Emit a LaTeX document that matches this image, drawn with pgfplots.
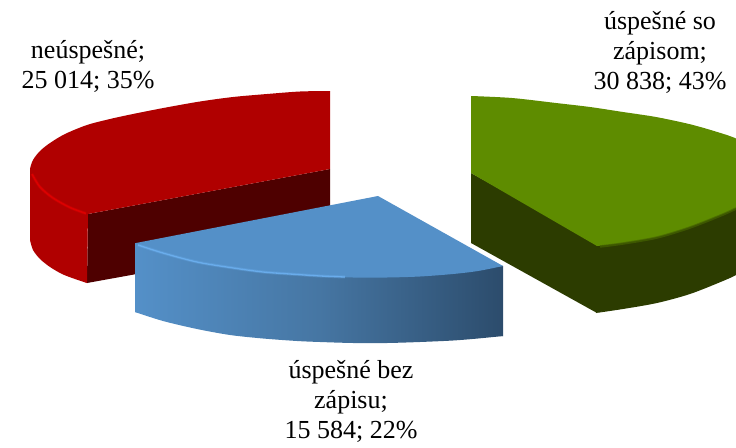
\documentclass[border=0pt]{standalone}
\usepackage{fontspec}
\setmainfont{Liberation Serif}
\usepackage{pgfplots}
\pgfplotsset{compat=1.18}
\definecolor{redtop}{HTML}{B00000}
\definecolor{redlit}{HTML}{E00000}
\definecolor{reddark}{HTML}{4E0000}
\definecolor{bluetop}{HTML}{5490C8}
\definecolor{bluelit}{HTML}{6CB0F0}
\definecolor{bluemid}{HTML}{4676A3}
\definecolor{blueend}{HTML}{2C4C6C}
\definecolor{greentop}{HTML}{5E8C00}
\definecolor{greendark}{HTML}{2C3C00}
\definecolor{greenrim}{HTML}{456300}
\tikzset{lbl/.style={font=\fontsize{26}{30}\selectfont, align=center, text=black, inner sep=0pt}}
\begin{document}
\begin{tikzpicture}
\begin{axis}[
  width=736pt, height=447pt, scale only axis,
  xmin=0, xmax=736, ymin=0, ymax=447,
  y dir=reverse,
  hide axis,
  no markers,
  every axis plot/.append style={draw=none, line join=round},
]
\path[use as bounding box] (axis cs:0,0) rectangle (axis cs:736,447);
% red slice: inner side, wall, bottom rim, top
\addplot[fill=reddark] coordinates {(88,214) (330,169) (330,239) (87,283)} -- cycle;
\addplot[fill=redtop] coordinates {(30,170) (30,240) (40,256) (62,271) (87,283) (88,210)} -- cycle;
\addplot[fill=redtop, smooth] coordinates {(30,240) (33,250) (40,259) (50,267) (62,274) (75,279) (87,283)};
\addplot[fill=redtop] coordinates {(330,91) (280,96) (170,112) (60,145) (40,180) (88,214) (330,169)} -- cycle;
\addplot[fill=redtop, smooth] coordinates {(330,91) (300,91.5) (267,94) (233,97) (200,101.5) (166,107.5) (133,114) (110,119) (87,125) (65,134) (50,143) (40,151) (33,160) (30,170) (33,178) (40,188) (53,198) (70,208) (88,214)};
\addplot[draw=redlit, line width=3pt, opacity=0.35, smooth] coordinates {(32,174) (40,187) (53,198) (70,207.5) (86,213.5)};
\addplot[draw=redlit, line width=1.5pt, opacity=0.9, smooth] coordinates {(32,174) (40,187) (53,198) (70,207.5) (86,213.5)};
% green slice
\addplot[fill=greendark] coordinates {(471,173) (597,243) (597,313) (471,243)} -- cycle;
\addplot[fill=greendark] coordinates {(596,240) (760,190) (760,260) (690,290) (623,306) (596,313)} -- cycle;
\addplot[fill=greendark, smooth] coordinates {(596,313) (623,309) (657,303) (690,294) (723,281) (736,275) (760,262)};
\addplot[fill=greentop] coordinates {(471,96) (556,106) (736,160) (760,180) (736,200) (657,233) (597,246) (471,173)} -- cycle;
\addplot[fill=greentop, smooth] coordinates {(471,96) (512,98) (556,103) (590,107) (623,112) (656,117) (689,124) (714,131) (736,138.5) (755,150) (768,165) (770,178) (760,195) (736,208) (723,214) (690,227) (657,237) (623,243) (597,246)};
\addplot[draw=greenrim, line width=2.5pt, opacity=0.7, smooth] coordinates {(600,246.5) (623,243.5) (657,237.5) (690,227.5) (723,214.5) (736,208.5)};
% blue slice: both wall pieces span x=135..503, so the shading lines up
\addplot[left color=bluetop, right color=blueend, middle color=bluemid] coordinates {(135,243) (135,312) (197,326) (320,339) (420,339) (503,336) (503,266)} -- cycle;
\addplot[left color=bluetop, right color=blueend, middle color=bluemid, smooth] coordinates {(135,312) (163,321) (197,329) (230,335) (263,338.5) (297,341) (320,342) (353,343) (387,343) (420,342) (453,340.5) (478,338.5) (503,336)};
\addplot[fill=bluetop] coordinates {(378,196) (136,243) (197,258) (320,273) (420,273) (503,266)} -- cycle;
\addplot[fill=bluetop, smooth] coordinates {(136,243) (163,252) (197,261) (230,267) (263,271.5) (297,274.5) (320,276) (353,277.5) (387,277.5) (420,276.5) (453,274) (478,271) (503,266)};
\addplot[draw=bluelit, line width=3pt, opacity=0.3, smooth] coordinates {(138,245) (163,253) (197,262) (230,267.5) (263,272) (297,274.5) (320,276) (345,277)};
\addplot[draw=bluelit, line width=1.3pt, opacity=0.9, smooth] coordinates {(138,245) (163,253) (197,262) (230,267.5) (263,272) (297,274.5) (320,276) (345,277)};
% labels
\node[lbl] at (axis cs:660,52) {úspešné so\\zápisom;\\30 838; 43\%};
\node[lbl] at (axis cs:88,66) {neúspešné;\\25 014; 35\%};
\node[lbl] at (axis cs:351,401) {úspešné bez\\zápisu;\\15 584; 22\%};
\end{axis}
\end{tikzpicture}
\end{document}
